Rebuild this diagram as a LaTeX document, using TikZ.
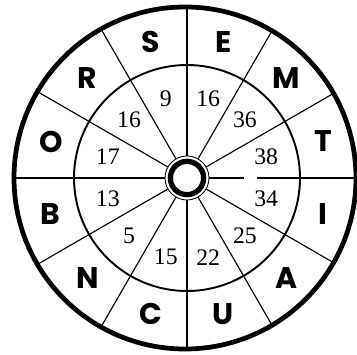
\documentclass[tikz,border=0pt]{standalone}
\usepackage{fontspec}
\setmainfont{Liberation Serif}
\newfontfamily\letterfont{Poppins}
\usetikzlibrary{calc}

\begin{document}
\begin{tikzpicture}[
  rim/.style={line width=2.7pt},
  ring/.style={line width=1.1pt},
  spoke/.style={line width=0.65pt},
  hubring/.style={circle, draw, fill=white, line width=0.5pt,
                  minimum size=0.88cm, inner sep=0pt},
  letter/.style={font=\letterfont\bfseries\fontsize{17}{17}\selectfont},
  number/.style={font=\fontsize{13.5}{13.5}\selectfont},
]
  \useasboundingbox (-3.74,-3.52) rectangle (3.40,3.56);

  % hub in the middle
  \node[hubring] (hub) at (0,0) {};

  % spokes (the one to the right has a gap)
  \foreach \a in {30,60,...,330}
    \draw[spoke] (hub.\a) -- (\a:3.42);
  \coordinate (gapL) at (1.14,0);
  \coordinate (gapR) at (1.40,0);
  \coordinate (rimR) at (3.42,0);
  \draw[spoke] (hub.0) -- (gapL);
  \draw[spoke] (gapR) -- (rimR);

  % circles
  \draw[ring] (0,0) circle (2.26);
  \draw[rim] (-0.04,0) circle (3.42);
  \draw[line width=3pt] (hub.center) circle (0.333);

  % letters and numbers
  \foreach \a/\l/\n [count=\i] in {105/S/9, 75/E/16, 45/M/36, 15/T/38,
      -15/I/34, -45/A/25, -75/U/22, -105/C/15, -135/N/5, -165/B/13,
      165/O/17, 135/R/16}
  {
    \node[letter] (let-\i) at (\a:2.82) {\l};
    \node[number] (num-\i) at (\a:1.64) {\n};
  }

\end{tikzpicture}
\end{document}
